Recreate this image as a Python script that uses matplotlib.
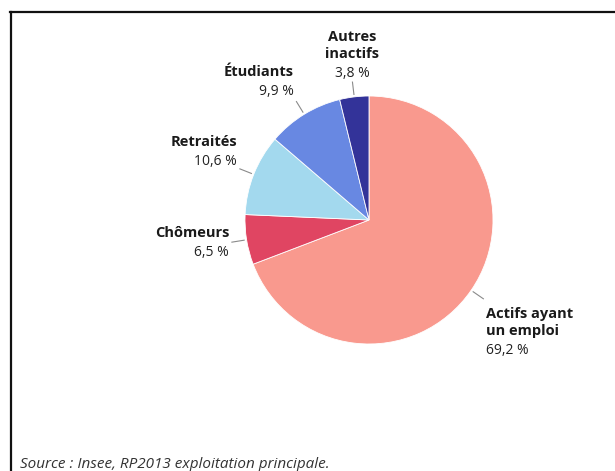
import matplotlib.pyplot as plt
import numpy as np
from matplotlib.lines import Line2D

plt.rcParams["font.family"] = ["Open Sans", "DejaVu Sans"]

# Data
categories = ["Actifs ayant\nun emploi", "Chômeurs", "Retraités", "Étudiants", "Autres\ninactifs"]
shares = [69.2, 6.5, 10.6, 9.9, 3.8]
value_labels = ["69,2 %", "6,5 %", "10,6 %", "9,9 %", "3,8 %"]
colors = ["#F9998E", "#E04562", "#A3D9EE", "#6888E2", "#333399"]

# label anchors in pixels (x, y of value line centre, alignment)
label_pos = [(486, 349, "left"), (229, 251, "right"), (237, 160, "right"),
             (294, 90, "right"), (352, 72, "center")]

W, H = 615, 471
fig = plt.figure(figsize=(W / 100, H / 100), dpi=100)

cx, cy, r = 369, 220, 124
ax = fig.add_axes([(cx - r) / W, (H - cy - r) / H, 2 * r / W, 2 * r / H])
wedges, _ = ax.pie(shares, colors=colors, startangle=90, counterclock=False,
                   radius=1, wedgeprops=dict(edgecolor="white", linewidth=0.6))
ax.set_xlim(-1, 1)
ax.set_ylim(-1, 1)
ax.set_aspect("equal")
ax.axis("off")

# leader lines
for w in wedges:
    ang = np.deg2rad((w.theta1 + w.theta2) / 2)
    ax.plot([1.02 * np.cos(ang), 1.12 * np.cos(ang)],
            [1.02 * np.sin(ang), 1.12 * np.sin(ang)],
            color="#8a8a8a", lw=0.8, clip_on=False)

for name, val, (x, y, ha) in zip(categories, value_labels, label_pos):
    fig.text(x / W, 1 - (y + 5) / H, val, ha=ha, va="baseline", fontsize=10,
             color="#222222")
    fig.text(x / W, 1 - (y - 14) / H, name, ha=ha, va="baseline", fontsize=10.5,
             fontweight="bold", color="#1a1a1a", linespacing=1.3,
             multialignment=ha)

fig.text(20 / W, 1 - 465 / H, "Source : Insee, RP2013 exploitation principale.",
         ha="left", va="center", fontsize=11, style="italic", color="#333333")

# frame
fig.add_artist(Line2D([10 / W, 1], [1 - 12 / H, 1 - 12 / H], color="#111111", lw=1.6))
fig.add_artist(Line2D([11 / W, 11 / W], [0, 1 - 12 / H], color="#111111", lw=1.6))

fig.savefig("out.png", dpi=100)
